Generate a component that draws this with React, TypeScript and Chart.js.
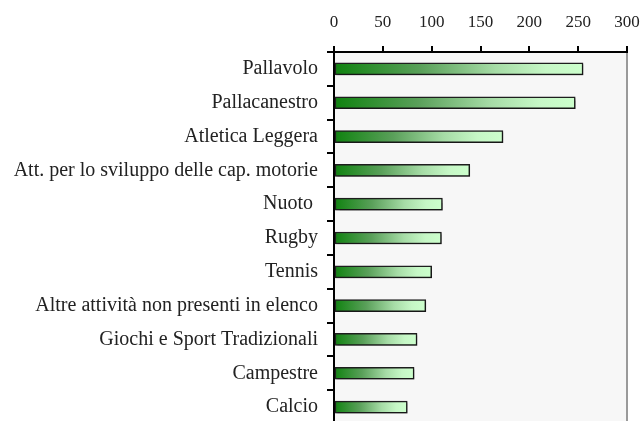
import React, { useEffect, useRef } from "react";
import { Chart, registerables } from "chart.js";

Chart.register(...registerables);

const categories = [
  "Pallavolo",
  "Pallacanestro",
  "Atletica Leggera",
  "Att. per lo sviluppo delle cap. motorie",
  "Nuoto ",
  "Rugby",
  "Tennis",
  "Altre attività non presenti in elenco",
  "Giochi e Sport Tradizionali",
  "Campestre",
  "Calcio",
];
const values = [255, 247, 173, 139, 111, 110, 100, 94, 85, 82, 75];
const xTicks = [0, 50, 100, 150, 200, 250, 300];

const FONT = "'Liberation Serif', 'DejaVu Serif', serif";

const bgPlugin = {
  id: "bgPlugin",
  beforeDraw(chart: any) {
    const { ctx, chartArea } = chart;
    if (!chartArea) return;
    ctx.save();
    ctx.fillStyle = "#f7f7f7";
    ctx.fillRect(chartArea.left, chartArea.top, chartArea.right - chartArea.left, chartArea.bottom - chartArea.top);
    ctx.strokeStyle = "#9a9a9a";
    ctx.lineWidth = 2;
    ctx.beginPath();
    ctx.moveTo(chartArea.right, chartArea.top);
    ctx.lineTo(chartArea.right, chartArea.bottom);
    ctx.stroke();
    ctx.restore();
  },
  beforeDatasetsDraw(chart: any) {
    const ctx = chart.ctx;
    ctx.save();
    ctx.shadowColor = "rgba(0,0,0,0.25)";
    ctx.shadowOffsetX = 1.5;
    ctx.shadowOffsetY = 1.5;
    ctx.shadowBlur = 1;
  },
  afterDatasetsDraw(chart: any) {
    chart.ctx.restore();
  },
};

const zeroPad = (s: any) => {
  s.paddingTop = 0;
  s.paddingBottom = 0;
  s.paddingLeft = 0;
  s.paddingRight = 0;
};

export default function App() {
  const ref = useRef<HTMLCanvasElement | null>(null);
  useEffect(() => {
    if (!ref.current) return;
    const chart = new Chart(ref.current, {
      type: "bar",
      data: {
        labels: categories,
        datasets: [
          {
            data: values,
            barThickness: 12,
            borderColor: "#1e1e1e",
            borderWidth: 1.5,
            borderSkipped: false,
            backgroundColor: (c: any) => {
              const chart = c.chart;
              if (!chart.chartArea || c.dataIndex === undefined) return "#6fb86f";
              const xs = chart.scales.x;
              const x0 = xs.getPixelForValue(0);
              const x1 = xs.getPixelForValue(values[c.dataIndex]);
              const g = chart.ctx.createLinearGradient(x0, 0, x1, 0);
              g.addColorStop(0, "#0f820f");
              g.addColorStop(0.35, "#5aa05a");
              g.addColorStop(0.65, "#a6dca6");
              g.addColorStop(0.85, "#c6f7c6");
              g.addColorStop(1, "#ccffcc");
              return g;
            },
          },
        ],
      },
      options: {
        indexAxis: "y",
        animation: false,
        responsive: false,
        maintainAspectRatio: false,
        layout: { padding: { top: 0, right: 15, bottom: 2, left: 0 } },
        plugins: { legend: { display: false }, tooltip: { enabled: false } },
        scales: {
          x: {
            position: "top",
            min: 0,
            max: 300,
            afterBuildTicks: (s: any) => {
              s.ticks = xTicks.map((v) => ({ value: v }));
            },
            afterFit: zeroPad,
            grid: { drawOnChartArea: false, drawTicks: true, tickLength: 6, color: "#000", lineWidth: 2 },
            border: { display: true, color: "#000", width: 2 },
            ticks: { color: "#222", font: { family: FONT, size: 17 }, padding: 12.8, maxRotation: 0 },
          },
          y: {
            afterFit: (s: any) => {
              s.width = 334;
              zeroPad(s);
            },
            grid: { drawOnChartArea: false, drawTicks: true, tickLength: 7, color: "#000", lineWidth: 2, offset: true },
            border: { display: true, color: "#000", width: 2 },
            ticks: { color: "#222", font: { family: FONT, size: 20 }, padding: 9, autoSkip: false },
          },
        },
      },
      plugins: [bgPlugin],
    } as any);
    return () => chart.destroy();
  }, []);
  return (
    <div style={{ position: "fixed", left: 0, top: 0, width: 642, height: 426, background: "#fff" }}>
      <canvas ref={ref} width={642} height={426} style={{ width: 642, height: 426, display: "block" }} />
    </div>
  );
}
